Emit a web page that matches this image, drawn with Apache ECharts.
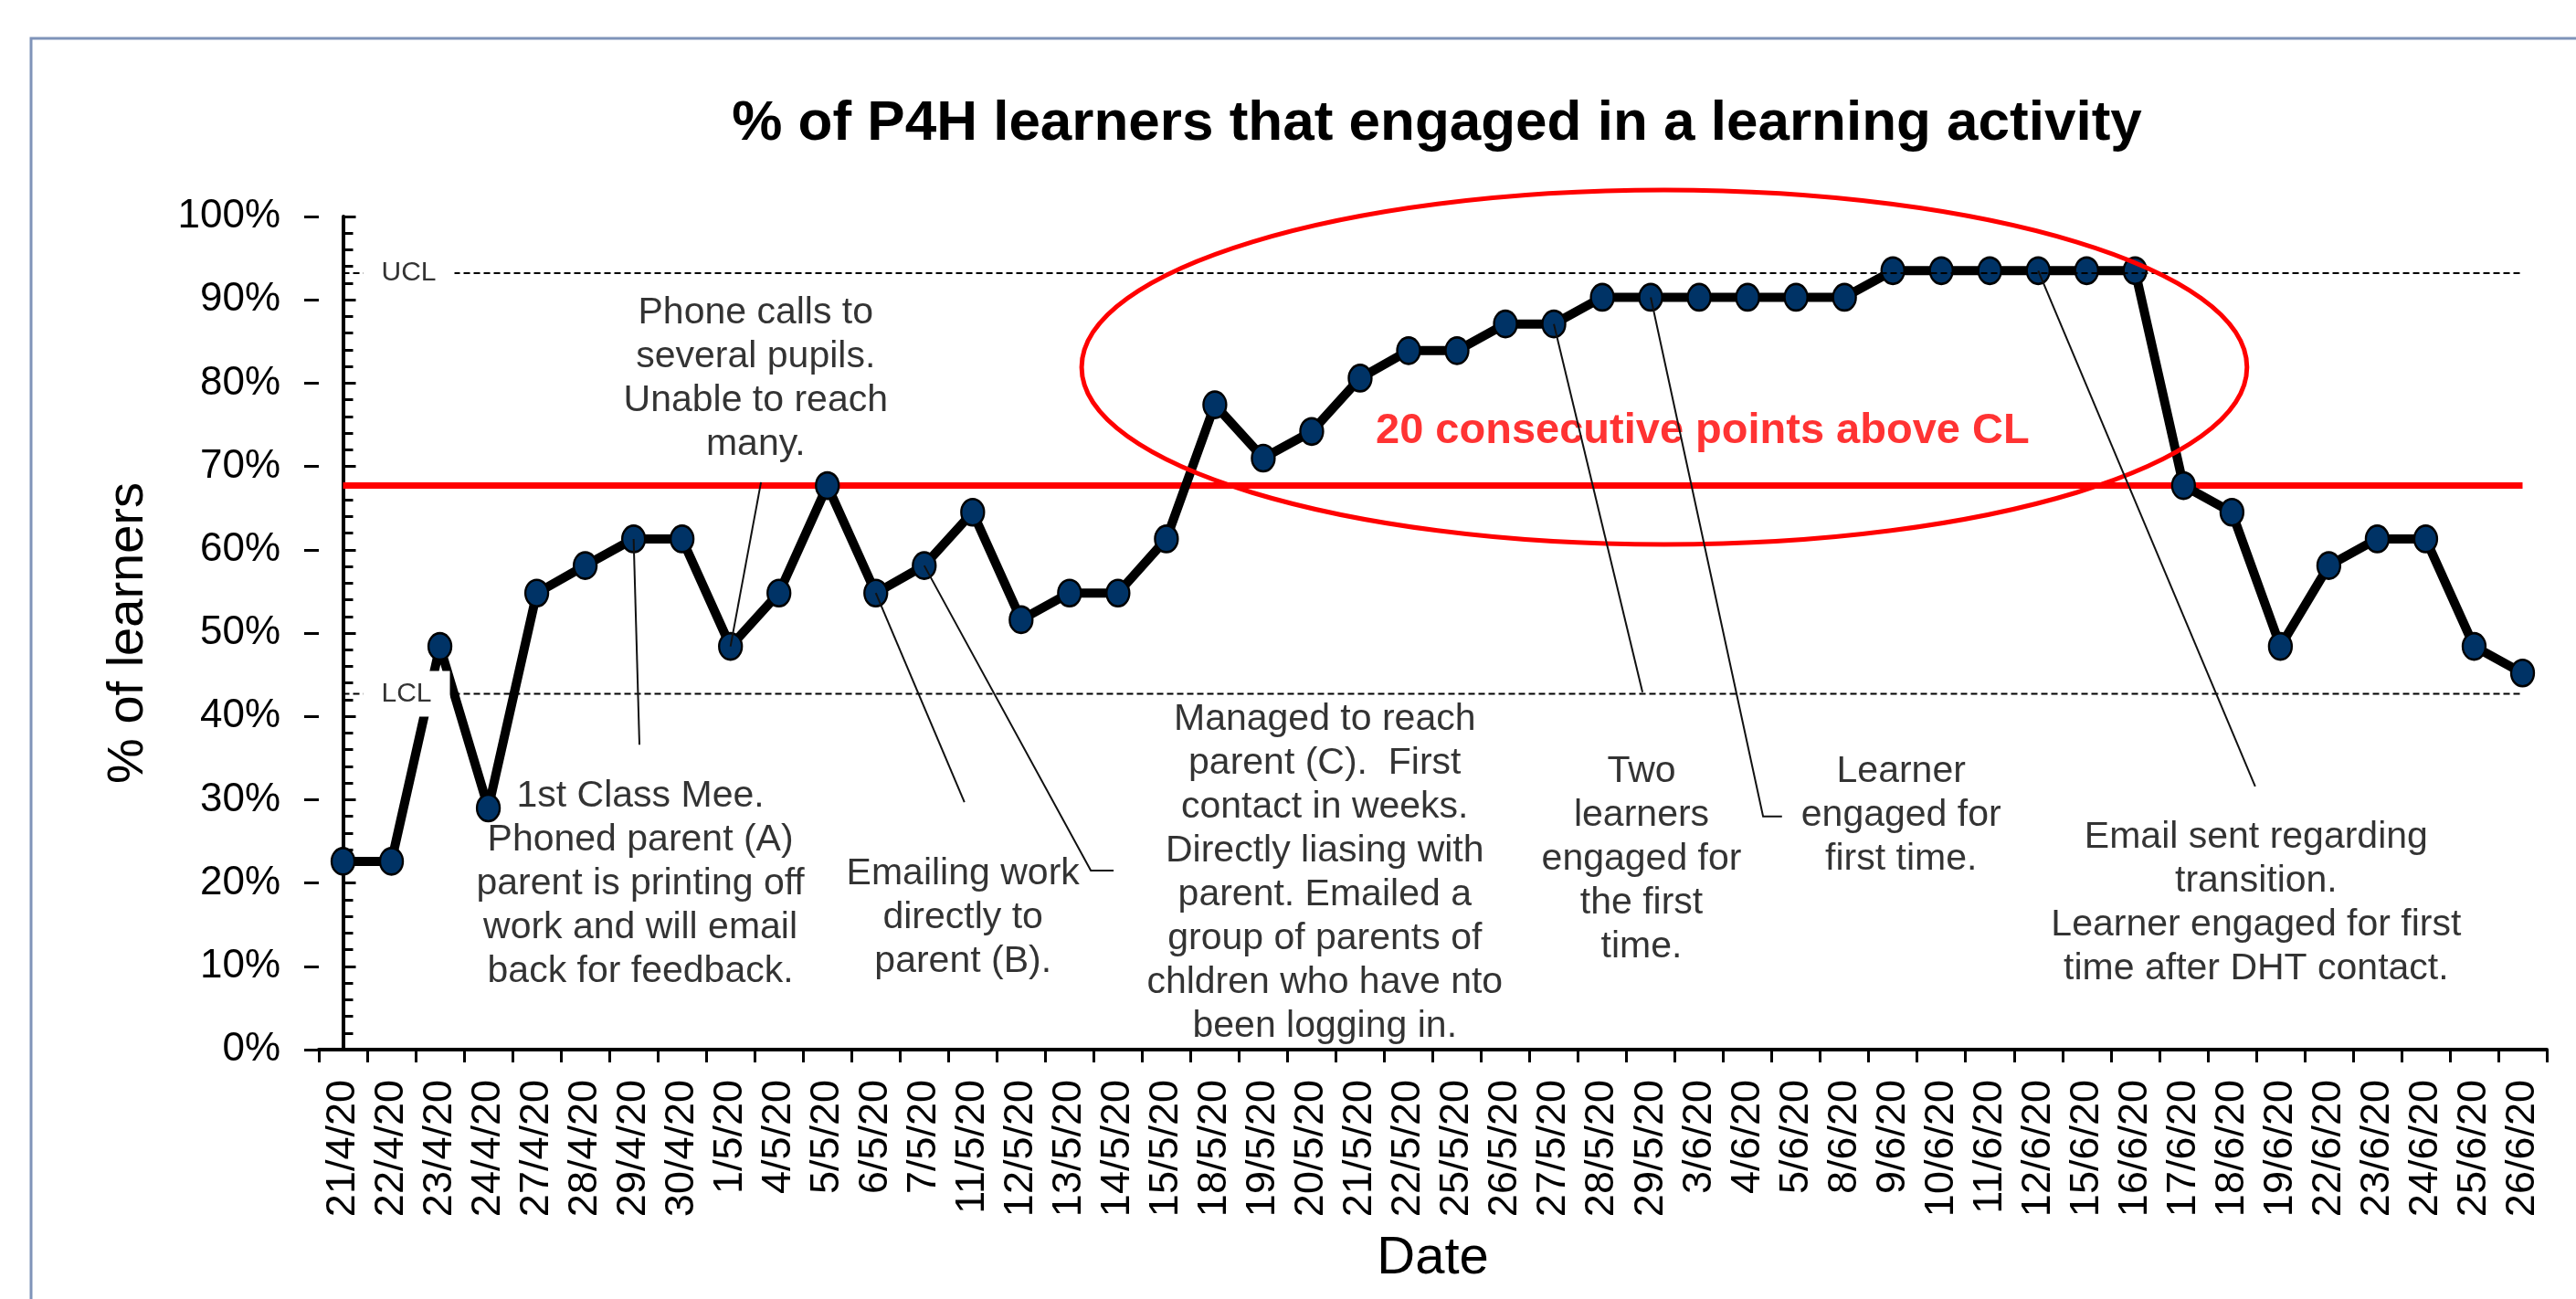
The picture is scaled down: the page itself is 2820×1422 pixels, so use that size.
<!DOCTYPE html>
<html><head><meta charset="utf-8">
<script src="https://cdn.jsdelivr.net/npm/echarts@6/dist/echarts.min.js"></script>
<style>html,body{margin:0;padding:0;background:#fff}#c{width:2820px;height:1422px}</style>
</head><body><div id="c"></div>
<script>
// ---------- data ----------
const categories = ['21/4/20','22/4/20','23/4/20','24/4/20','27/4/20','28/4/20','29/4/20','30/4/20','1/5/20','4/5/20','5/5/20','6/5/20','7/5/20','11/5/20','12/5/20','13/5/20','14/5/20','15/5/20','18/5/20','19/5/20','20/5/20','21/5/20','22/5/20','25/5/20','26/5/20','27/5/20','28/5/20','29/5/20','3/6/20','4/6/20','5/6/20','8/6/20','9/6/20','10/6/20','11/6/20','12/6/20','15/6/20','16/6/20','17/6/20','18/6/20','19/6/20','22/6/20','23/6/20','24/6/20','25/6/20','26/6/20'];
const engaged = [22.6,22.6,48.4,29.0,54.8,58.1,61.3,61.3,48.4,54.8,67.7,54.8,58.1,64.5,51.6,54.8,54.8,61.3,77.4,71.0,74.2,80.6,83.9,83.9,87.1,87.1,90.3,90.3,90.3,90.3,90.3,90.3,93.5,93.5,93.5,93.5,93.5,93.5,67.7,64.5,48.4,58.1,61.3,61.3,48.4,45.2];
const yTicks = [0,10,20,30,40,50,60,70,80,90,100];
const centreLine = 67.7;
const upperLimit = 93.2;
const lowerLimit = 42.7;

// annotation texts
const noteTexts = [
  'Phone calls to\nseveral pupils.\nUnable to reach\nmany.',
  '1st Class Mee.\nPhoned parent (A)\nparent is printing off\nwork and will email\nback for feedback.',
  'Emailing work\ndirectly to\nparent (B).',
  'Managed to reach\nparent (C).  First\ncontact in weeks.\nDirectly liasing with\nparent. Emailed a\ngroup of parents of\nchldren who have nto\nbeen logging in.',
  'Two\nlearners\nengaged for\nthe first\ntime.',
  'Learner\nengaged for\nfirst time.',
  'Email sent regarding\ntransition.\nLearner engaged for first\ntime after DHT contact.'
];
// annotation anchor positions (category index, % value) - top centre of each text block
const notePositions = [[8.52,91.0],[6.14,33.0],[12.80,23.7],[20.27,42.2],[26.81,36.0],[32.17,36.0],[39.5,28.1]];
// leader lines (category index, % value)
const leaderPaths = [
  [[8.63,68.1],[8,48.4]],
  [[6,61.3],[6.12,36.6]],
  [[11,54.8],[12.83,29.7]],
  [[12,58.1],[15.44,21.5],[15.91,21.5]],
  [[25,87.1],[26.83,42.9]],
  [[27,90.3],[29.32,28.0],[29.71,28.0]],
  [[35,93.5],[39.48,31.6]]
];
const runText = '20 consecutive points above CL';
const runTextPos = [28.07,74.2];
const runEllipse = [27.28,81.9,12.03,21.27]; // centre x, centre y, radius x (categories), radius y (%)

// ---------- chart ----------
const chart = echarts.init(document.getElementById('c'), null, {renderer:'canvas'});
const FONT = 'Liberation Sans, Arial, sans-serif';
const lastIdx = categories.length - 1;

const limitSeries = (name, val) => ({
  name, type:'line', xAxisIndex:1, yAxisIndex:0, z:4, silent:true,
  symbol:'circle', symbolSize:0, showSymbol:true,
  itemStyle:{color:'rgba(0,0,0,0)'},
  lineStyle:{color:'#000', width:2, type:[7,4]},
  data:[
    {value:[0,val], label:{show:true, formatter:name, position:'right', distance:22,
      backgroundColor:'#fff', padding:[10,20,10,20], color:'#333', fontSize:30, fontFamily:FONT}},
    {value:[lastIdx,val]}
  ]
});

chart.setOption({
  animation:false,
  backgroundColor:'#fff',
  title:{
    text:'% of P4H learners that engaged in a learning activity',
    left:1568, top:100, textAlign:'center',
    textStyle:{fontSize:62, fontWeight:'bold', color:'#000', fontFamily:FONT}
  },
  graphic:[{
    type:'rect', z:-10, silent:true,
    shape:{x:34, y:42, width:2900, height:1500},
    style:{fill:'none', stroke:'#7f93b9', lineWidth:3}
  }],
  grid:{left:349, right:32, top:237, bottom:273, containLabel:false, outerBoundsMode:'none'},
  xAxis:[{
    type:'category', data:categories, boundaryGap:true,
    name:'Date', nameLocation:'middle', nameGap:200,
    nameTextStyle:{fontSize:58, color:'#000', fontFamily:FONT},
    axisLine:{show:true, lineStyle:{color:'#000', width:4}},
    axisTick:{show:true, inside:false, length:14, alignWithLabel:false, interval:0, lineStyle:{color:'#000', width:3}},
    axisLabel:{interval:0, rotate:90, margin:33, fontSize:45, color:'#000', fontFamily:FONT},
    splitLine:{show:false}
  },{
    type:'value', min:-0.5, max:lastIdx + 0.5, show:false, position:'top'
  }],
  yAxis:[{
    type:'value', min:0, max:100, interval:10, position:'left',
    name:'% of learners', nameLocation:'middle', nameGap:180, nameRotate:90,
    nameTextStyle:{fontSize:56, color:'#000', fontFamily:FONT},
    axisLine:{show:true, lineStyle:{color:'#000', width:4}},
    axisTick:{show:true, inside:true, length:14, lineStyle:{color:'#000', width:3}},
    minorTick:{show:true, splitNumber:5, length:11, lineStyle:{color:'#000', width:3}},
    axisLabel:{margin:42, fontSize:44, color:'#000', fontFamily:FONT, formatter:v => v + '%'},
    splitLine:{show:false}, minorSplitLine:{show:false}
  },{
    type:'value', min:0, max:100, interval:10, position:'left', offset:0,
    axisLine:{show:false}, axisLabel:{show:false}, splitLine:{show:false},
    axisTick:{show:true, inside:false, length:16, lineStyle:{color:'#000', width:3}}
  }],
  series:[
    {
      name:'CL', type:'line', xAxisIndex:1, yAxisIndex:0, z:1, silent:true,
      symbol:'none', lineStyle:{color:'#ff0000', width:7},
      data:[[0,centreLine],[lastIdx,centreLine]]
    },
    {
      name:'% engaged', type:'line', xAxisIndex:0, yAxisIndex:0, z:2,
      data:engaged, symbol:'circle', symbolSize:[25,29], showSymbol:true,
      lineStyle:{color:'#000', width:10},
      itemStyle:{color:'#003366', borderColor:'#000', borderWidth:2.5}
    },
    limitSeries('UCL', upperLimit),
    limitSeries('LCL', lowerLimit),
    {
      name:'run', type:'scatter', xAxisIndex:1, yAxisIndex:0, z:4, silent:true,
      symbolSize:0, itemStyle:{color:'rgba(0,0,0,0)'},
      data:[{value:runTextPos, name:runText}],
      label:{show:true, position:'inside', formatter:'{b}', color:'#ff0000', fontSize:47, fontWeight:'bold', fontFamily:FONT}
    },
    {
      name:'ellipse', type:'custom', xAxisIndex:1, yAxisIndex:0, z:5, silent:true, clip:false,
      data:[runEllipse],
      encode:{x:0, y:1},
      renderItem:(params, api) => {
        const c = api.coord([api.value(0), api.value(1)]);
        const s = api.size([api.value(2), api.value(3)]);
        return {type:'ellipse', shape:{cx:c[0], cy:c[1], rx:s[0], ry:s[1]},
          style:{fill:'none', stroke:'#ff0000', lineWidth:5}};
      }
    },
    {
      name:'leaders', type:'lines', coordinateSystem:'cartesian2d', xAxisIndex:1, yAxisIndex:0,
      polyline:true, z:6, silent:true,
      lineStyle:{color:'#111', width:2, opacity:1},
      data:leaderPaths.map(p => ({coords:p}))
    },
    {
      name:'notes', type:'scatter', xAxisIndex:1, yAxisIndex:0, z:6, silent:true,
      symbolSize:0, itemStyle:{color:'rgba(0,0,0,0)'},
      data:noteTexts.map((t,i) => ({value:notePositions[i], name:t})),
      label:{show:true, position:'bottom', distance:0, formatter:'{b}', align:'center',
        color:'#000', fontSize:41, lineHeight:48, fontFamily:FONT}
    }
  ]
});
</script>
</body></html>
